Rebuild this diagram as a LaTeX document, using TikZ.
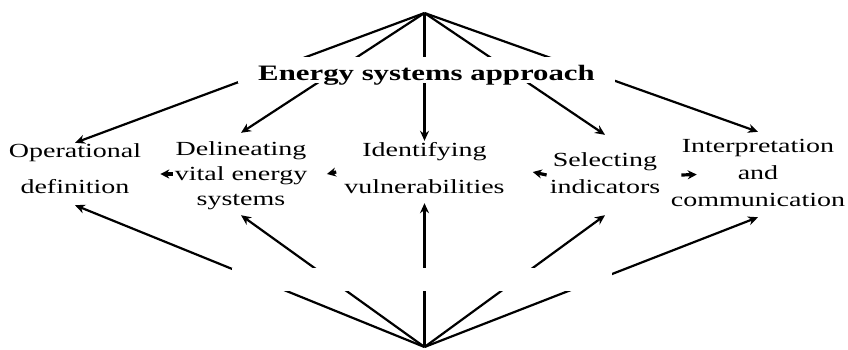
\documentclass[tikz,border=0pt]{standalone}
\usepackage{fontspec}
\setmainfont{Liberation Serif}[FakeStretch=1.4]
\usetikzlibrary{arrows.meta}

\tikzset{
  fan/.style={-{Stealth[length=10pt,width=9pt]}, line width=2.2pt},
  link/.style={-{Stealth[length=9pt,width=9pt]}, line width=3.2pt},
  box/.style={align=center, inner sep=0pt, anchor=base},
}

\begin{document}
\begin{tikzpicture}[x=1pt,y=-1pt]
  \useasboundingbox (0,0) rectangle (848,349);
  \coordinate (top) at (424.5,13);
  \coordinate (bottom) at (424.5,347);

  % the five steps (base = last line)
  \node[box, font=\fontsize{20}{36}\selectfont, text height=50pt, text depth=12pt]
    (opdef) at (75,193) {Operational\\definition};
  \node[box, font=\fontsize{20}{25}\selectfont, text height=72pt, text depth=10pt]
    (delin) at (241,205) {Delineating\\vital energy\\systems};
  \node[box, font=\fontsize{20}{37}\selectfont, text height=52pt, text depth=10pt]
    (ident) at (424.5,193) {Identifying\\vulnerabilities};
  \node[box, font=\fontsize{20}{27}\selectfont, text height=58pt, text depth=22pt]
    (select) at (605,193) {Selecting\\indicators};
  \node[box, font=\fontsize{20}{27}\selectfont, text height=74pt, text depth=11pt]
    (interp) at (758,206) {Interpretation\\and\\communication};

  % arrows fanning out from above and below
  \foreach \n in {opdef,delin,ident,select,interp}{
    \draw[fan] (top) -- (\n.north);
    \draw[fan] (bottom) -- (\n.south);
  }
  \fill[white] (232,268) rectangle (612,291);

  \node[fill=white, font=\fontsize{22}{26}\bfseries\selectfont, minimum width=377pt,
    text height=23pt, text depth=3pt, inner sep=0pt, anchor=base]
    (title) at (426.5,80) {Energy systems approach};

  % short arrows between the steps
  \draw[link] ([xshift=-2pt]delin.west) -- ([xshift=19pt]opdef.east);
  \draw[link] ([xshift=-8pt]ident.west) -- ([xshift=19.5pt]delin.east);
  \draw[link] ([xshift=-3pt]select.west) -- ([xshift=28pt]ident.east);
  \draw[link] ([xshift=21pt]select.east) -- ([xshift=26pt]interp.west);
\end{tikzpicture}
\end{document}
